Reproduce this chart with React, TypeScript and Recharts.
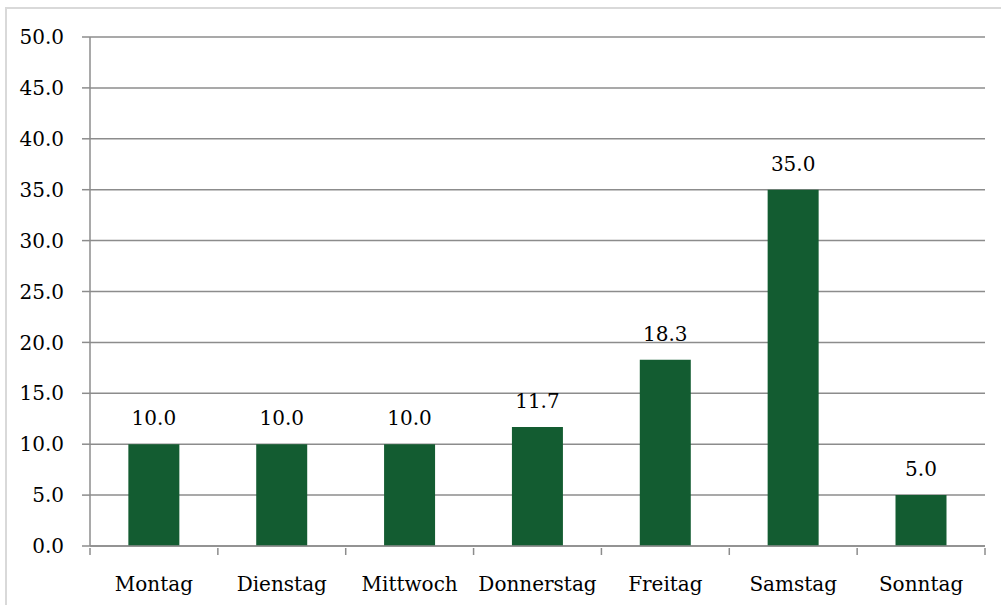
import React from 'react';
import { BarChart, Bar, XAxis, YAxis, CartesianGrid, LabelList } from 'recharts';

const days = ['Montag', 'Dienstag', 'Mittwoch', 'Donnerstag', 'Freitag', 'Samstag', 'Sonntag'];
const values = [10.0, 10.0, 10.0, 11.7, 18.3, 35.0, 5.0];
const yTicks = [0, 5, 10, 15, 20, 25, 30, 35, 40, 45, 50];

const data = days.map((d, i) => ({ day: d, value: values[i] }));

const FONT = "'DejaVu Serif', serif";
const FS = 20;
const GRID = '#8c8c8c';

function DayTick(props: any) {
  const { x, y, payload, index, visibleTicksCount } = props;
  const half = payload && typeof payload.offset === 'number' ? payload.offset : 0;
  const last = index === (visibleTicksCount ?? days.length) - 1;
  return (
    <g>
      <line x1={x - half} x2={x - half} y1={y} y2={y + 7} stroke={GRID} strokeWidth={1.5} />
      {last && <line x1={x + half} x2={x + half} y1={y} y2={y + 7} stroke={GRID} strokeWidth={1.5} />}
      <text x={x} y={y + 43} textAnchor="middle" fill="#000" fontSize={FS} style={{ fontFamily: FONT }}>
        {payload.value}
      </text>
    </g>
  );
}

export default function App() {
  return (
    <div style={{ position: 'absolute', left: 0, top: 0, width: 1001, height: 605, overflow: 'hidden', background: '#fff', fontFamily: FONT }}>
      <div style={{ position: 'absolute', left: 5, top: 7, width: 1020, height: 640, border: '2px solid #d9d9d9', boxSizing: 'border-box' }} />
      <div style={{ position: 'absolute', left: 0, top: 0 }}>
        <BarChart width={1001} height={605} data={data} margin={{ top: 37, right: 16, left: 0, bottom: 0 }} barCategoryGap="30%">
          <CartesianGrid vertical={false} stroke={GRID} strokeWidth={1.5} />
          <XAxis
            dataKey="day"
            tickLine={false}
            tickSize={0}
            height={59}
            axisLine={{ stroke: GRID, strokeWidth: 1.5 }}
            tick={<DayTick />}
            interval={0}
          />
          <YAxis
            domain={[0, 50]}
            ticks={yTicks}
            width={90}
            tickSize={8}
            tickMargin={18}
            tickFormatter={(v: number) => v.toFixed(1)}
            axisLine={{ stroke: GRID, strokeWidth: 1.5 }}
            tickLine={{ stroke: GRID, strokeWidth: 1.5 }}
            tick={{ fill: '#000', fontSize: FS, style: { fontFamily: FONT } }}
          />
          <Bar dataKey="value" fill="#135c31" isAnimationActive={false}>
            <LabelList dataKey="value" position="top" offset={19} formatter={(v: number) => v.toFixed(1)} style={{ fill: '#000', fontSize: FS, fontFamily: FONT }} />
          </Bar>
        </BarChart>
      </div>
    </div>
  );
}
